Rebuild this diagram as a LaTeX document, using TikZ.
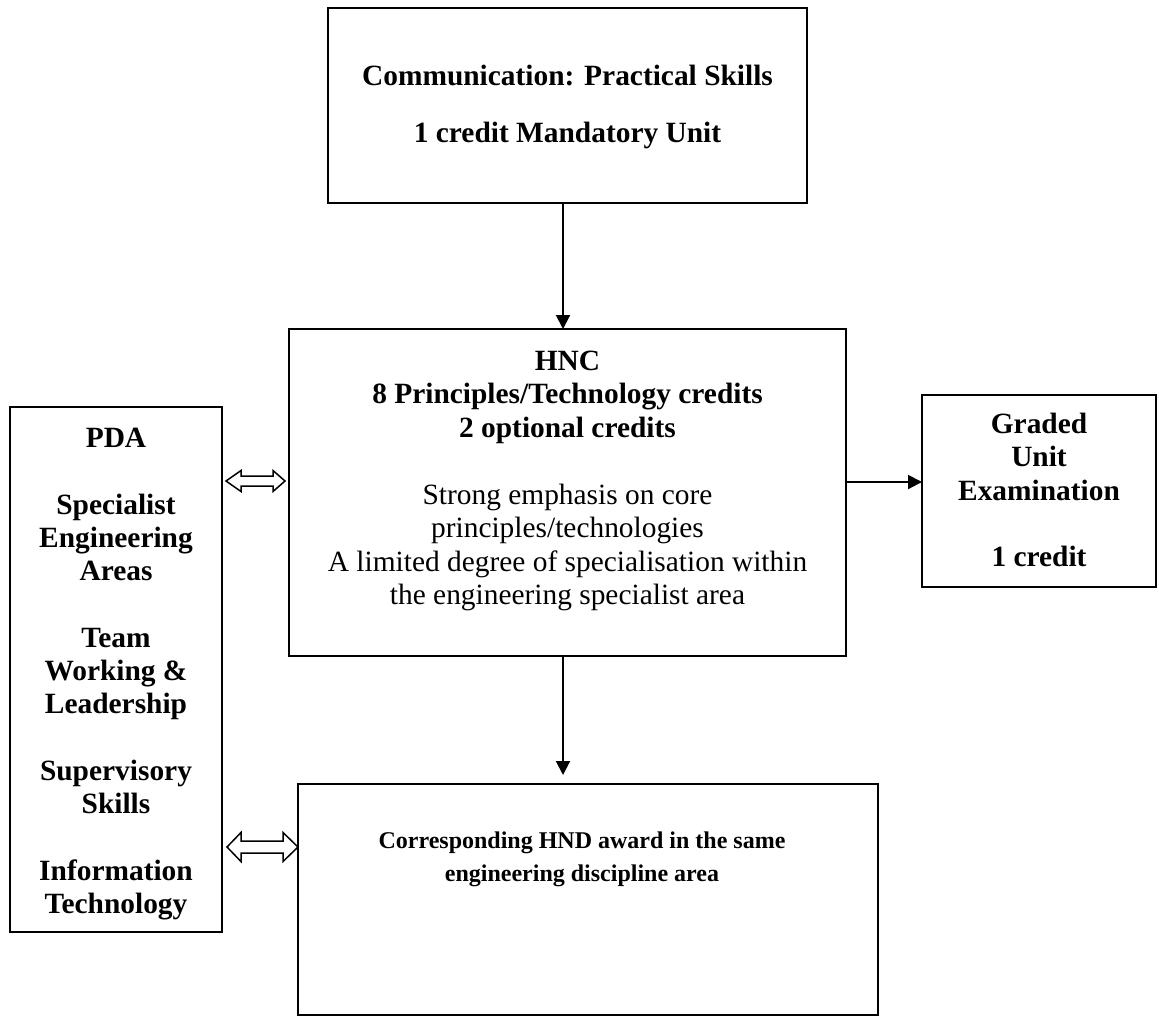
\documentclass[tikz,border=0pt]{standalone}
\usepackage{fontspec}
\setmainfont{Liberation Serif}
\usetikzlibrary{arrows.meta,calc}
\setlength{\lineskiplimit}{-20pt}
\begin{document}
\begin{tikzpicture}[x=0.5pt,y=-0.5pt,
  box/.style={draw,line width=1pt,inner sep=0pt,outer sep=0pt},
  txt/.style={inner sep=0pt,align=center,anchor=north,
    font=\fontsize{14.7pt}{16.65pt}\selectfont\bfseries},
  plain/.style={font=\fontsize{14.7pt}{16.65pt}\selectfont},
  small/.style={font=\fontsize{12pt}{16.65pt}\selectfont\bfseries},
  arr/.style={line width=1pt,-{Triangle[length=7pt,width=7pt]}},
  blk/.style={draw,line width=0.75pt,fill=white,line join=miter}]
\useasboundingbox[fill=white] (0,0) rectangle (1159,1023);

% boxes
\node[box,minimum width=239.5pt,minimum height=97.5pt] (top) at (567.5,105.5) {};
\node[box,minimum width=278.5pt,minimum height=163.5pt] (hnc) at (567.5,492.5) {};
\node[box,minimum width=106pt,minimum height=262.5pt] (pda) at (116,669.5) {};
\node[box,minimum width=117pt,minimum height=96pt] (graded) at (1039,491) {};
\node[box,minimum width=290pt,minimum height=115.5pt] (hnd) at (588,899.5) {};

% texts
\node[txt] (topT) at (567.5,61) {\rule{0pt}{12pt}Communication: Practical Skills\\[12pt]1 credit Mandatory Unit};
\node[txt] (hncT1) at (567.5,346) {\rule{0pt}{12pt}HNC\\8 Principles/Technology credits\\2 optional credits};
\node[txt,plain] (hncT2) at (567.5,480) {\rule{0pt}{12pt}Strong emphasis on core\\principles/technologies\\A limited degree of specialisation within\\the engineering specialist area};
\node[txt] (pdaT) at (116,423) {\rule{0pt}{12pt}PDA\\[16.65pt]Specialist\\Engineering\\Areas\\[16.65pt]Team\\Working \&\\Leadership\\[16.65pt]Supervisory\\Skills\\[16.65pt]Information\\Technology};
\node[txt] (gradedT) at (1039,409) {\rule{0pt}{12pt}Graded\\Unit\\Examination\\[16.65pt]1 credit};
\node[txt,small] (hndT) at (582,824) {\rule{0pt}{12pt}Corresponding HND award in the same\\engineering discipline area};

% connectors
\coordinate (colA) at (563,0);
\coordinate (rowA) at (0,482);
\coordinate (rowB) at (0,481);
\coordinate (rowC) at (0,847);
\draw[arr] (top.south -| colA) -- (hnc.north -| colA);
\draw[arr,shorten >=4.5pt] (hnc.south -| colA) -- (hnd.north -| colA);
\draw[arr] (hnc.east |- rowA) -- (graded.west |- rowA);

% block double arrows
\coordinate (d1L) at ($(pda.east |- rowB)+(4,0)$);
\coordinate (d1R) at ($(hnc.west |- rowB)+(-4,0)$);
\draw[blk] (d1L) -- ++(15,-10.5) -- ++(0,5.5) -- ($(d1R)+(-12,-5)$) -- ++(0,-5.5) -- (d1R)
  -- ++(-12,10.5) -- ++(0,-5.5) -- ($(d1L)+(15,5)$) -- ++(0,5.5) -- cycle;
\coordinate (d2L) at ($(pda.east |- rowC)+(5,0)$);
\coordinate (d2R) at (hnd.west |- rowC);
\draw[blk] (d2L) -- ++(14,-14.5) -- ++(0,8.5) -- ($(d2R)+(-15,-6)$) -- ++(0,-8.5) -- (d2R)
  -- ++(-15,14.5) -- ++(0,-8.5) -- ($(d2L)+(14,6)$) -- ++(0,8.5) -- cycle;
\end{tikzpicture}
\end{document}
